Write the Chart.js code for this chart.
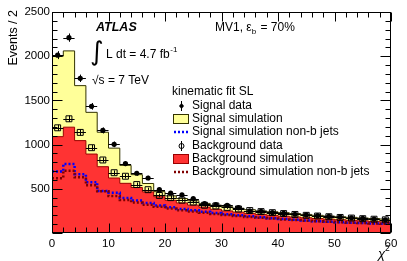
<!DOCTYPE html>
<html><head><meta charset="utf-8">
<script src="https://cdn.jsdelivr.net/npm/chart.js@4"></script>
<style>html,body{margin:0;padding:0;background:#fff}#c{display:block}</style>
</head><body><canvas id="c" width="407" height="261"></canvas>
<script>
// ---- data ----
const binLow = [0,2,4,6,8,10,12,14,16,18,20,22,24,26,28,30,32,34,36,38,40,42,44,46,48,50,52,54,56,58];
const binWidth = 2;
const signalData = [2012,2210,1750,1433,1160,1003,785,676,622,490,450,432,388,332,322,312,286,250,245,232,222,212,205,196,188,180,172,165,158,150];
const signalSim  = [2000,2060,1667,1365,1140,960,765,660,560,468,420,390,365,335,315,298,280,264,250,240,230,220,210,200,192,184,177,170,164,158];
const signalNonB = [695,780,665,575,475,455,395,368,340,312,290,272,256,240,226,212,200,189,178,168,158,149,140,133,127,121,116,112,108,104];
const bkgData    = [1190,1292,1138,965,826,682,642,548,490,425,400,372,350,314,306,290,272,254,242,230,220,210,200,192,184,176,169,162,156,149];
const bkgSim     = [1090,1197,1045,893,750,622,562,515,465,410,370,340,315,293,268,250,236,222,210,200,190,181,172,164,157,150,144,138,132,126];
const bkgNonB    = [620,704,630,540,472,418,372,345,320,296,276,258,243,228,215,203,192,182,172,163,154,146,138,132,126,121,116,112,108,104];
const xTickLabels = [0,10,20,30,40,50,60];
const yTickLabels = [500,1000,1500,2000,2500];
const xMinorStep = 2, yMinorStep = 100;
const legendTitle = 'kinematic fit SL';
const legendLabels = ['Signal data','Signal simulation','Signal simulation non-b jets','Background data','Background simulation','Background simulation non-b jets'];

const FONT = "'Liberation Sans', Arial, Helvetica, sans-serif";

function stepPts(vals){
  const p = binLow.map((x,i)=>({x:x, y:vals[i]}));
  p.push({x: binLow[binLow.length-1]+binWidth, y: vals[vals.length-1]});
  return p;
}
function centerPts(vals){
  return binLow.map((x,i)=>({x:x+binWidth/2, y:vals[i]}));
}

const errPlugin = {
  id:'errbars',
  beforeDatasetDraw(chart, args){
    const ds = chart.data.datasets[args.index];
    if(!ds.errbars) return;
    const xs = chart.scales.x, ys = chart.scales.y, ctx = chart.ctx;
    ctx.save();
    ctx.strokeStyle = '#000'; ctx.lineWidth = 1;
    ds.data.forEach(p=>{
      const px = xs.getPixelForValue(p.x), py = ys.getPixelForValue(p.y);
      const x0 = xs.getPixelForValue(p.x-binWidth/2), x1 = xs.getPixelForValue(p.x+binWidth/2);
      const e = Math.sqrt(p.y);
      const y0 = ys.getPixelForValue(p.y-e), y1 = ys.getPixelForValue(p.y+e);
      ctx.beginPath();
      ctx.moveTo(x0, Math.round(py)+0.5); ctx.lineTo(x1, Math.round(py)+0.5);
      ctx.moveTo(Math.round(px)+0.5, y0); ctx.lineTo(Math.round(px)+0.5, y1);
      ctx.stroke();
    });
    ctx.restore();
  }
};

const framePlugin = {
  id:'frame',
  afterDatasetsDraw(chart){
    const ctx = chart.ctx, a = chart.chartArea, xs = chart.scales.x, ys = chart.scales.y;
    ctx.save();
    ctx.strokeStyle = '#000'; ctx.lineWidth = 1;
    const L = Math.round(a.left)+0.5, R = Math.round(a.right)-0.5, T = Math.round(a.top)+0.5, B = Math.round(a.bottom)-0.5;
    ctx.strokeRect(L, T, R-L, B-T);
    ctx.beginPath();
    for(let v=xs.min; v<=xs.max+1e-9; v+=xMinorStep){
      const px = Math.round(xs.getPixelForValue(v))+0.5;
      const len = xTickLabels.includes(v) ? 9 : 5;
      ctx.moveTo(px, B); ctx.lineTo(px, B-len);
      ctx.moveTo(px, T); ctx.lineTo(px, T+len);
    }
    for(let v=ys.min; v<=ys.max+1e-9; v+=yMinorStep){
      const py = Math.round(ys.getPixelForValue(v))+0.5;
      const len = (v%500===0) ? 10 : 5;
      ctx.moveTo(L, py); ctx.lineTo(L+len, py);
      ctx.moveTo(R, py); ctx.lineTo(R-len, py);
    }
    ctx.stroke();
    ctx.restore();
  },
  afterDraw(chart){
    const ctx = chart.ctx, a = chart.chartArea;
    ctx.save();
    ctx.fillStyle = '#000';
    // y title
    ctx.save();
    ctx.translate(17, a.top - 2);
    ctx.rotate(-Math.PI/2);
    ctx.font = '12.5px ' + FONT;
    ctx.textAlign = 'right'; ctx.textBaseline = 'alphabetic';
    ctx.fillText('Events / 2', 0, 0);
    ctx.restore();
    // x title
    ctx.font = 'italic 13px ' + FONT;
    ctx.textAlign = 'right'; ctx.textBaseline = 'alphabetic';
    ctx.fillText('\u03C7', a.right - 6, 258);
    ctx.font = '8.5px ' + FONT;
    ctx.textAlign = 'left';
    ctx.fillText('2', a.right - 6, 251);
    // ATLAS
    ctx.font = 'italic bold 12.5px ' + FONT;
    ctx.textAlign = 'left';
    ctx.fillText('ATLAS', 96, 31);
    // integral
    ctx.font = '26px ' + 'DejaVu Sans, ' + FONT;
    ctx.fillText('\u222B', 90, 60);
    ctx.font = '12px ' + FONT;
    ctx.fillText('L dt = 4.7 fb', 106, 58);
    const w1 = ctx.measureText('L dt = 4.7 fb').width;
    ctx.font = '8px ' + FONT;
    ctx.fillText('-1', 106 + w1 + 0.5, 52);
    ctx.font = '12px ' + FONT;
    ctx.fillText('\u221As = 7 TeV', 92, 84);
    // MV1
    let x = 215;
    ctx.fillText('MV1, \u03B5', x, 31);
    x += ctx.measureText('MV1, \u03B5').width;
    ctx.font = '8px ' + FONT;
    ctx.fillText('b', x, 34);
    x += ctx.measureText('b').width + 1;
    ctx.font = '12px ' + FONT;
    ctx.fillText(' = 70%', x, 31);
    // legend
    ctx.fillText(legendTitle, 172, 95);
    const rows = [106,119,132,146,159,172];
    const mx0 = 174, mx1 = 188, mc = 181, tx = 192;
    rows.forEach((ry,i)=>{
      ctx.font = '12px ' + FONT;
      ctx.fillStyle = '#000';
      ctx.textBaseline = 'middle';
      ctx.fillText(legendLabels[i], tx, ry);
      ctx.textBaseline = 'alphabetic';
    });
    // marker 0: signal data
    ctx.strokeStyle = '#000'; ctx.lineWidth = 1;
    ctx.beginPath(); ctx.moveTo(mc+0.5, rows[0]-5); ctx.lineTo(mc+0.5, rows[0]+5); ctx.stroke();
    ctx.beginPath(); ctx.moveTo(mc+0.5, rows[0]-3); ctx.lineTo(mc+3, rows[0]); ctx.lineTo(mc+0.5, rows[0]+3); ctx.lineTo(mc-2, rows[0]); ctx.closePath(); ctx.fill();
    // marker 1: signal sim box
    ctx.fillStyle = '#ffff99'; ctx.fillRect(mx0-1, rows[1]-5, mx1-mx0+2, 10);
    ctx.strokeStyle = '#333300'; ctx.strokeRect(mx0-0.5, rows[1]-4.5, mx1-mx0+1, 9);
    // marker 2: blue dotted
    ctx.strokeStyle = '#0000ff'; ctx.lineWidth = 2.5; ctx.setLineDash([2,2]);
    ctx.beginPath(); ctx.moveTo(mx0, rows[2]); ctx.lineTo(mx1, rows[2]); ctx.stroke();
    // marker 3: background data
    ctx.setLineDash([]); ctx.lineWidth = 1; ctx.strokeStyle = '#000';
    ctx.beginPath(); ctx.moveTo(mc+0.5, rows[3]-5); ctx.lineTo(mc+0.5, rows[3]+5); ctx.stroke();
    ctx.beginPath(); ctx.arc(mc+0.5, rows[3], 2.5, 0, Math.PI*2); ctx.stroke();
    // marker 4: red box
    ctx.fillStyle = '#ff3333'; ctx.fillRect(mx0-1, rows[4]-5, mx1-mx0+2, 10);
    ctx.strokeStyle = '#990000'; ctx.strokeRect(mx0-0.5, rows[4]-4.5, mx1-mx0+1, 9);
    // marker 5: dark red dotted
    ctx.strokeStyle = '#800000'; ctx.lineWidth = 2.5; ctx.setLineDash([2,2]);
    ctx.beginPath(); ctx.moveTo(mx0, rows[5]); ctx.lineTo(mx1, rows[5]); ctx.stroke();
    ctx.restore();
  }
};

new Chart(document.getElementById('c'), {
  type: 'line',
  data: {
    datasets: [
      { label: legendLabels[0], data: centerPts(signalData), showLine:false, errbars:true,
        pointStyle:'circle', pointRadius:2.6, pointBackgroundColor:'#000', pointBorderWidth:0, order:1 },
      { label: legendLabels[3], data: centerPts(bkgData), showLine:false, errbars:true,
        pointStyle:'rect', pointRadius:4.2, pointBackgroundColor:'rgba(0,0,0,0)', pointBorderColor:'#000', pointBorderWidth:1, order:2 },
      { label: legendLabels[2], data: stepPts(signalNonB), stepped:'before', fill:false,
        borderColor:'#0000ff', borderWidth:2.5, borderDash:[2,2], pointRadius:0, order:4 },
      { label: legendLabels[5], data: stepPts(bkgNonB), stepped:'before', fill:false,
        borderColor:'#800000', borderWidth:2.5, borderDash:[2,2], pointRadius:0, order:3 },
      { label: legendLabels[4], data: stepPts(bkgSim), stepped:'before', fill:'origin',
        backgroundColor:'#ff3333', borderColor:'#990000', borderWidth:1, pointRadius:0, order:5 },
      { label: legendLabels[1], data: stepPts(signalSim), stepped:'before', fill:'origin',
        backgroundColor:'#ffff99', borderColor:'#333300', borderWidth:1, pointRadius:0, order:6 }
    ]
  },
  options: {
    responsive:false, animation:false, devicePixelRatio:1,
    layout:{ padding:{ left:0, right:16, top:12, bottom:0 } },
    plugins:{ legend:{display:false}, tooltip:{enabled:false} },
    scales:{
      x:{ type:'linear', min:0, max:60,
        grid:{display:false, drawTicks:false}, border:{display:false},
        ticks:{ stepSize:10, autoSkip:false, maxRotation:0, padding:4, color:'#000',
          font:{family:FONT, size:11.5},
          callback:(v)=> xTickLabels.includes(v) ? String(v) : '' },
        afterFit:(s)=>{ s.height = 28; } },
      y:{ min:0, max:2500,
        grid:{display:false, drawTicks:false}, border:{display:false},
        ticks:{ stepSize:500, autoSkip:false, padding:2, color:'#000',
          font:{family:FONT, size:11.5},
          callback:(v)=> yTickLabels.includes(v) ? String(v) : '' },
        afterFit:(s)=>{ s.width = 52; } }
    }
  },
  plugins:[errPlugin, framePlugin]
});
</script>
</body></html>
